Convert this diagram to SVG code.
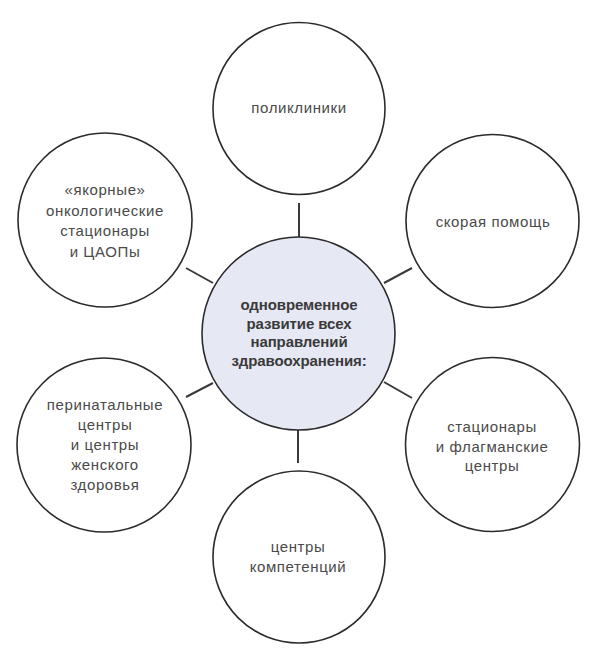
<svg xmlns="http://www.w3.org/2000/svg" width="600" height="660" viewBox="0 0 600 660">
<style>
.node{fill:#ffffff;stroke:#2b2b2b;stroke-width:1.6}
.hub{fill:#e6e8f4;stroke:#2b2b2b;stroke-width:1.6}
.conn line{stroke:#3a3a3a;stroke-width:2}
.t{font-family:"Liberation Sans",Arial,sans-serif;font-size:15px;fill:#4a4a4a;text-anchor:middle;letter-spacing:0.6px}
.h{font-family:"Liberation Sans",Arial,sans-serif;font-size:15px;font-weight:bold;fill:#3a3a3a;text-anchor:middle;letter-spacing:-0.1px}
</style>
<rect width="600" height="660" fill="#ffffff"/>
<g id="connectors" class="conn">
<line x1="299" y1="203" x2="299" y2="237"/>
<line x1="298" y1="430" x2="298" y2="463"/>
<line x1="384" y1="283" x2="412" y2="268"/>
<line x1="384" y1="382" x2="412" y2="398"/>
<line x1="213" y1="283" x2="186" y2="268"/>
<line x1="213" y1="383" x2="186" y2="397"/>
</g>
<g id="hub">
<circle class="hub" cx="298.5" cy="333.5" r="96.5"/>
<text class="h" x="299" y="310">одновременное</text>
<text class="h" x="299" y="328.5">развитие всех</text>
<text class="h" x="299" y="347">направлений</text>
<text class="h" x="299" y="365.5">здравоохранения:</text>
</g>
<g id="node-polyclinics">
<circle class="node" cx="299" cy="108.5" r="86"/>
<text class="t" x="299" y="113">поликлиники</text>
</g>
<g id="node-ambulance">
<circle class="node" cx="492.5" cy="221" r="86.5"/>
<text class="t" x="493" y="227">скорая помощь</text>
</g>
<g id="node-hospitals">
<circle class="node" cx="492.5" cy="444.5" r="87"/>
<text class="t" x="492" y="432">стационары</text>
<text class="t" x="492" y="451.5">и флагманские</text>
<text class="t" x="492" y="471">центры</text>
</g>
<g id="node-competence">
<circle class="node" cx="299" cy="557" r="86"/>
<text class="t" x="298" y="552">центры</text>
<text class="t" x="298" y="572">компетенций</text>
</g>
<g id="node-perinatal">
<circle class="node" cx="104" cy="445" r="87"/>
<text class="t" x="105" y="410">перинатальные</text>
<text class="t" x="105" y="430">центры</text>
<text class="t" x="105" y="450">и центры</text>
<text class="t" x="105" y="470">женского</text>
<text class="t" x="105" y="490">здоровья</text>
</g>
<g id="node-oncology">
<circle class="node" cx="105" cy="220" r="87"/>
<text class="t" x="105" y="195">«якорные»</text>
<text class="t" x="105" y="215.5">онкологические</text>
<text class="t" x="105" y="236">стационары</text>
<text class="t" x="105" y="256.5">и ЦАОПы</text>
</g>
</svg>
